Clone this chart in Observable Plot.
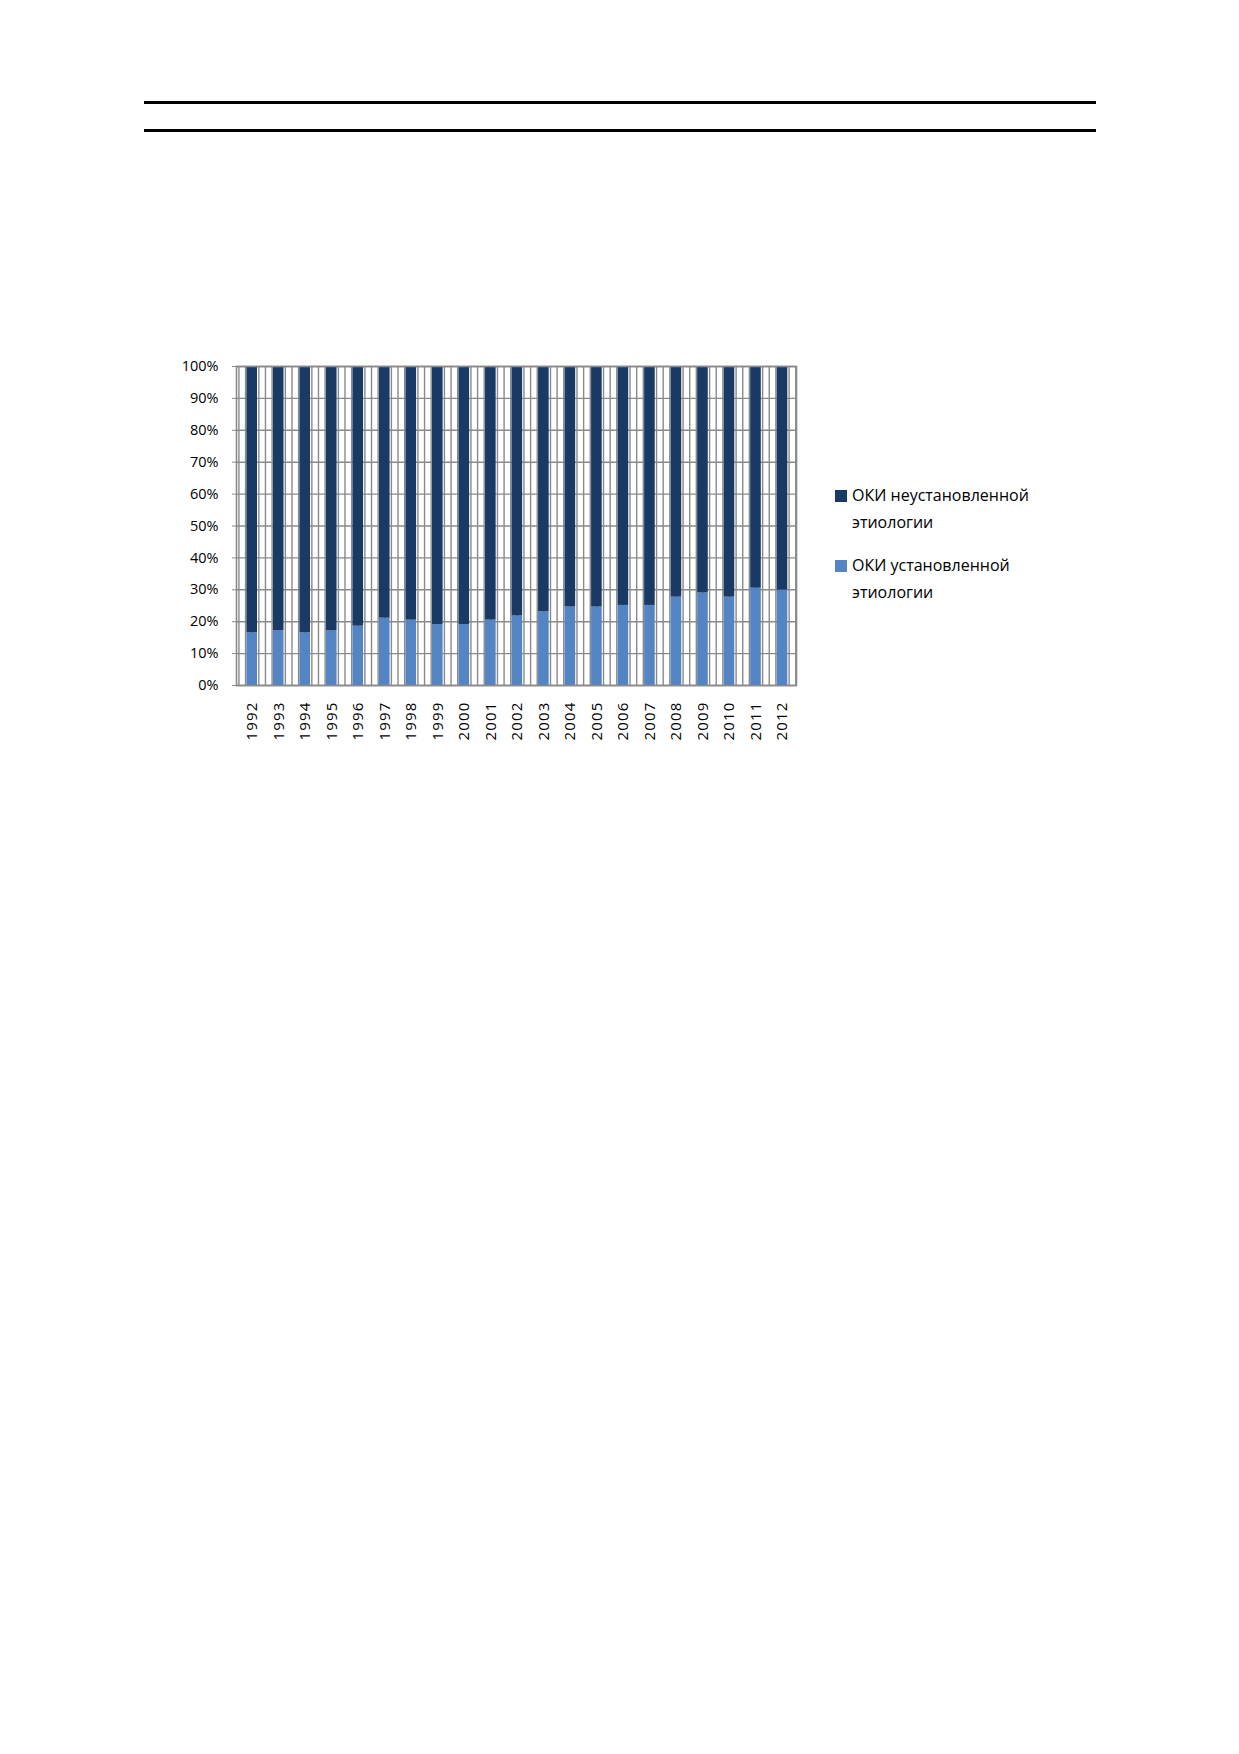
<!DOCTYPE html>
<html>
<head>
<meta charset="utf-8">
<script src="https://cdn.jsdelivr.net/npm/d3@7"></script>
<script src="https://cdn.jsdelivr.net/npm/@observablehq/plot@0.6"></script>
<style>
  html, body { margin: 0; padding: 0; background: #fff; }
  #page { position: relative; width: 1239px; height: 1754px; background: #fff; font-family: "Open Sans", sans-serif; }
  .rule { position: absolute; left: 144px; width: 952px; height: 3px; background: #000; }
  #chart { position: absolute; left: 0; top: 0; }
  #chart g[aria-label="x-axis tick label"] text { letter-spacing: 1.2px; }
  .legend { position: absolute; left: 835px; font-size: 16px; line-height: 26.5px; color: #000; }
  .legend .sw { position: absolute; left: 0; width: 12px; height: 12px; }
  .legend .tx { position: absolute; left: 17px; white-space: nowrap; }
</style>
</head>
<body>
<div id="page">
  <div class="rule" style="top:100.5px"></div>
  <div class="rule" style="top:128.5px"></div>
  <div id="chart"></div>
  <div id="legend"></div>
</div>
<script>
// ---- data ----
const years = [1992, 1993, 1994, 1995, 1996, 1997, 1998, 1999, 2000, 2001, 2002,
               2003, 2004, 2005, 2006, 2007, 2008, 2009, 2010, 2011, 2012];
const seriesNames = ["ОКИ установленной этиологии", "ОКИ неустановленной этиологии"];
const established   = [16.5, 17.2, 16.5, 17.2, 18.6, 21.1, 20.5, 19.1, 19.1, 20.5, 21.8,
                       23.1, 24.6, 24.6, 25.1, 25.1, 27.7, 29.0, 27.7, 30.5, 29.9];
const unestablished = [83.5, 82.8, 83.5, 82.8, 81.4, 78.9, 79.5, 80.9, 80.9, 79.5, 78.2,
                       76.9, 75.4, 75.4, 74.9, 74.9, 72.3, 71.0, 72.3, 69.5, 70.1];
const yTicks = [0, 0.1, 0.2, 0.3, 0.4, 0.5, 0.6, 0.7, 0.8, 0.9, 1.0];
const colors = ["#5384c4", "#183a64"];

// ---- table for Plot ----
const rows = [];
years.forEach((yr, i) => {
  rows.push({year: yr, series: seriesNames[0], value: established[i]});
  rows.push({year: yr, series: seriesNames[1], value: unestablished[i]});
});

// vertical minor grid (quarter of a category)
const xGrid = d3.range(0, (years.length) * 4 + 1).map(k => years[0] - 0.5 + k * 0.25);

const gridColor = "#8a8a8a";

const chart = Plot.plot({
  width: 1239,
  height: 760,
  marginLeft: 236,
  marginRight: 443,
  marginTop: 366,
  marginBottom: 75,
  style: {fontFamily: "'Open Sans', sans-serif", color: "#000", background: "transparent"},
  x: {type: "linear", domain: [1991.408, 2012.528], axis: null, label: null},
  y: {domain: [0, 1], axis: null, label: null},
  color: {domain: seriesNames, range: colors},
  marks: [
    Plot.gridX({ticks: xGrid, stroke: gridColor, strokeOpacity: 1, strokeWidth: 1.4}),
    Plot.gridY({ticks: yTicks, stroke: gridColor, strokeOpacity: 1, strokeWidth: 1.4}),
    Plot.rectY(rows, {
      x1: d => d.year - 0.2,
      x2: d => d.year + 0.2,
      y: "value",
      fill: "series",
      z: "series",
      order: seriesNames,
      offset: "normalize"
    }),
    Plot.frame({stroke: gridColor, strokeWidth: 1.6}),
    Plot.axisY({
      ticks: yTicks,
      tickFormat: d => Math.round(d * 100) + "%",
      tickSize: 4,
      tickPadding: 14,
      stroke: gridColor,
      fontSize: 14.5,
      label: null
    }),
    Plot.axisX({
      ticks: years,
      tickFormat: d => String(d),
      tickRotate: -90,
      tickSize: 0,
      tickPadding: 16,
      fontSize: 15,
      label: null
    })
  ]
});
document.getElementById("chart").appendChild(chart);

// ---- legend ----
const legendItems = [
  {name: seriesNames[1], color: colors[1], top: 485, lines: ["ОКИ неустановленной", "этиологии"]},
  {name: seriesNames[0], color: colors[0], top: 555, lines: ["ОКИ установленной", "этиологии"]}
];
const legend = document.getElementById("legend");
legendItems.forEach(it => {
  const g = document.createElement("div");
  g.className = "legend";
  g.style.top = it.top + "px";
  const sw = document.createElement("div");
  sw.className = "sw";
  sw.style.background = it.color;
  sw.style.top = "5px";
  g.appendChild(sw);
  const tx = document.createElement("div");
  tx.className = "tx";
  tx.style.top = "-3px";
  tx.innerHTML = it.lines.join("<br>");
  g.appendChild(tx);
  legend.appendChild(g);
});
</script>
</body>
</html>
